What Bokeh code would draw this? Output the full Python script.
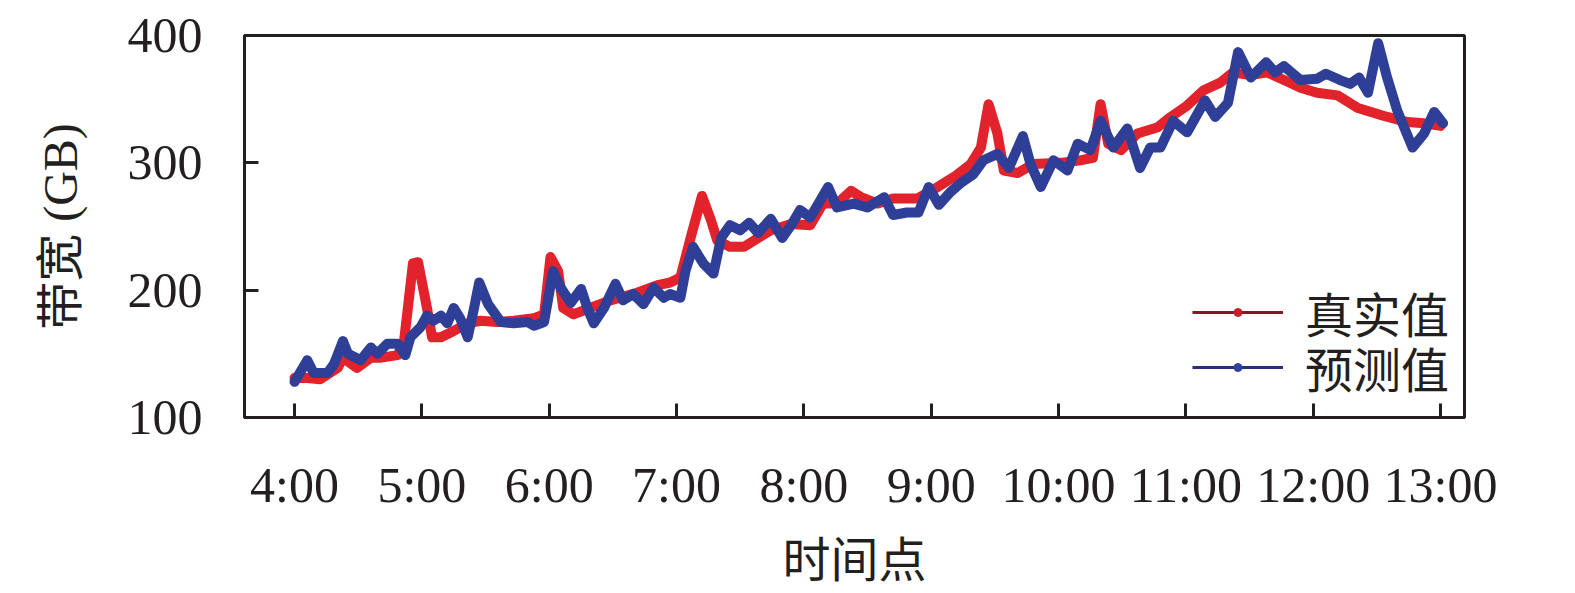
from bokeh.plotting import figure
from bokeh.models import FixedTicker, Legend, LegendItem, ColumnDataSource, Range1d
from bokeh.embed import file_html
from bokeh.resources import INLINE

# ---- data (hours since 0:00, bandwidth in GB) ----
real_t = [4.00, 4.10, 4.20, 4.34, 4.38, 4.49, 4.60, 4.68, 4.81, 4.86, 4.93, 4.97,
          5.04, 5.08, 5.15, 5.25, 5.36, 5.46, 5.59, 5.72, 5.88, 5.96, 6.01, 6.07,
          6.11, 6.19, 6.32, 6.48, 6.69, 6.85, 6.95, 7.03, 7.11, 7.20, 7.27, 7.32,
          7.42, 7.53, 7.64, 7.74, 7.90, 8.05, 8.15, 8.26, 8.37, 8.45, 8.58, 8.70,
          8.89, 9.05, 9.18, 9.31, 9.39, 9.45, 9.52, 9.57, 9.68, 9.80, 10.02, 10.17,
          10.27, 10.33, 10.39, 10.49, 10.62, 10.78, 10.88, 11.01, 11.14, 11.27, 11.37,
          11.51, 11.64, 11.77, 11.90, 12.03, 12.19, 12.35, 12.55, 12.74, 12.87, 13.00]
real_v = [131, 131, 130, 139, 147, 139, 147, 147, 149, 160, 221, 222,
          186, 163, 163, 168, 174, 176, 175, 176, 178, 181, 226, 215,
          186, 181, 186, 192, 198, 204, 206, 210, 241, 274, 255, 239,
          234, 234, 241, 247, 252, 251, 268, 268, 278, 273, 268, 272,
          272, 281, 289, 299, 312, 346, 323, 294, 292, 299, 300, 302,
          304, 346, 315, 310, 323, 328, 336, 345, 357, 363, 371,
          369, 371, 365, 359, 355, 353, 343, 337, 332, 331, 329]

pred_t = [4.00, 4.10, 4.15, 4.26, 4.31, 4.38, 4.42, 4.52, 4.60, 4.65, 4.73, 4.81,
          4.87, 4.91, 4.99, 5.04, 5.09, 5.15, 5.20, 5.25, 5.30, 5.36, 5.41, 5.45,
          5.52, 5.62, 5.72, 5.83, 5.88, 5.96, 6.03, 6.09, 6.17, 6.25, 6.30, 6.35,
          6.43, 6.52, 6.58, 6.66, 6.74, 6.82, 6.90, 6.95, 7.03, 7.07, 7.13, 7.21,
          7.29, 7.35, 7.42, 7.50, 7.57, 7.64, 7.74, 7.83, 7.90, 7.97, 8.05, 8.19,
          8.26, 8.39, 8.50, 8.63, 8.70, 8.81, 8.90, 8.98, 9.06, 9.15, 9.23, 9.33,
          9.41, 9.52, 9.61, 9.72, 9.78, 9.86, 9.96, 10.07, 10.15, 10.25, 10.33, 10.43,
          10.54, 10.64, 10.72, 10.80, 10.90, 11.01, 11.15, 11.23, 11.33, 11.41, 11.51,
          11.63, 11.70, 11.77, 11.90, 12.03, 12.10, 12.21, 12.29, 12.36, 12.43, 12.51,
          12.58, 12.66, 12.78, 12.87, 12.95, 13.02]
pred_v = [128, 145, 135, 135, 142, 160, 150, 145, 155, 150, 158, 158,
          149, 163, 171, 180, 176, 180, 174, 186, 178, 163, 186, 206,
          189, 175, 174, 175, 172, 175, 215, 202, 190, 201, 186, 174,
          186, 205, 192, 197, 189, 202, 194, 197, 194, 215, 234, 221,
          213, 241, 251, 247, 253, 245, 256, 241, 251, 263, 257, 281,
          265, 268, 265, 273, 259, 261, 261, 281, 267, 277, 284, 291,
          302, 307, 296, 321, 299, 281, 302, 294, 315, 310, 333, 312,
          327, 296, 312, 312, 333, 324, 349, 336, 347, 387, 367,
          379, 371, 376, 365, 366, 370, 365, 362, 367, 355, 394,
          367, 341, 312, 323, 340, 331]

x_ticks = [4, 5, 6, 7, 8, 9, 10, 11, 12, 13]
x_labels = ["4:00", "5:00", "6:00", "7:00", "8:00", "9:00", "10:00", "11:00", "12:00", "13:00"]
y_ticks = [100, 200, 300, 400]
series_names = ["真实值", "预测值"]
x_title = "时间点"
y_title = "带宽 (GB)"

RED = "#e2232b"
BLUE = "#2f3f97"
SERIF = "Liberation Serif"
CJK = "Liberation Serif, Noto Sans CJK SC"
INK = "#231f20"

p = figure(width=1575, height=593, output_backend="svg", toolbar_location=None,
           x_range=Range1d(3.607, 13.188), y_range=Range1d(100, 400),
           min_border_left=244, min_border_right=111, min_border_top=35, min_border_bottom=176)

p.line(real_t, real_v, line_color=RED, line_width=10, line_join="round", line_cap="round")
p.line(pred_t, pred_v, line_color=BLUE, line_width=10, line_join="round", line_cap="round")

# legend proxies (placed outside the visible range)
off = dict(x=[0.0, 0.5], y=[0.0, 0.0])
lr = p.line("x", "y", source=ColumnDataSource(off), line_color="#7d1a22", line_width=3)
mr = p.scatter("x", "y", source=ColumnDataSource(off), size=7, fill_color="#c8202a", line_color="#c8202a")
lb = p.line("x", "y", source=ColumnDataSource(off), line_color="#2a2f78", line_width=3)
mb = p.scatter("x", "y", source=ColumnDataSource(off), size=7, fill_color="#3040a0", line_color="#3040a0")

legend_style = dict(orientation="vertical", glyph_width=91, glyph_height=20, label_height=50,
                    label_standoff=22, spacing=0, padding=0, margin=0, border_line_color=None,
                    background_fill_alpha=0, label_text_font=CJK, label_text_font_size="48px",
                    label_text_color=INK)
p.add_layout(Legend(items=[LegendItem(label=series_names[0], renderers=[lr, mr])],
                    location=(948, 70), **legend_style))
p.add_layout(Legend(items=[LegendItem(label=series_names[1], renderers=[lb, mb])],
                    location=(948, 15), **legend_style))

p.xgrid.grid_line_color = None
p.ygrid.grid_line_color = None
p.outline_line_color = INK
p.outline_line_width = 3
p.outline_line_alpha = 1

xa = p.xaxis[0]
xa.ticker = FixedTicker(ticks=x_ticks)
xa.major_label_overrides = {t: l for t, l in zip(x_ticks, x_labels)}
ya = p.yaxis[0]
ya.ticker = FixedTicker(ticks=y_ticks)

for ax in (xa, ya):
    ax.axis_line_color = INK
    ax.axis_line_width = 3
    ax.major_tick_line_color = INK
    ax.major_tick_line_width = 3
    ax.major_tick_in = 14
    ax.major_tick_out = 0
    ax.minor_tick_line_color = None
    ax.major_label_text_font = SERIF
    ax.major_label_text_font_size = "50px"
    ax.major_label_text_color = INK
    ax.axis_label_text_font = CJK
    ax.axis_label_text_font_size = "48px"
    ax.axis_label_text_font_style = "normal"
    ax.axis_label_text_color = INK

xa.axis_label = x_title
ya.axis_label = y_title
xa.major_label_standoff = 39
xa.axis_label_standoff = 18
ya.major_label_standoff = 42
ya.axis_label_standoff = 38

open("out.html", "w").write(file_html(p, INLINE))
